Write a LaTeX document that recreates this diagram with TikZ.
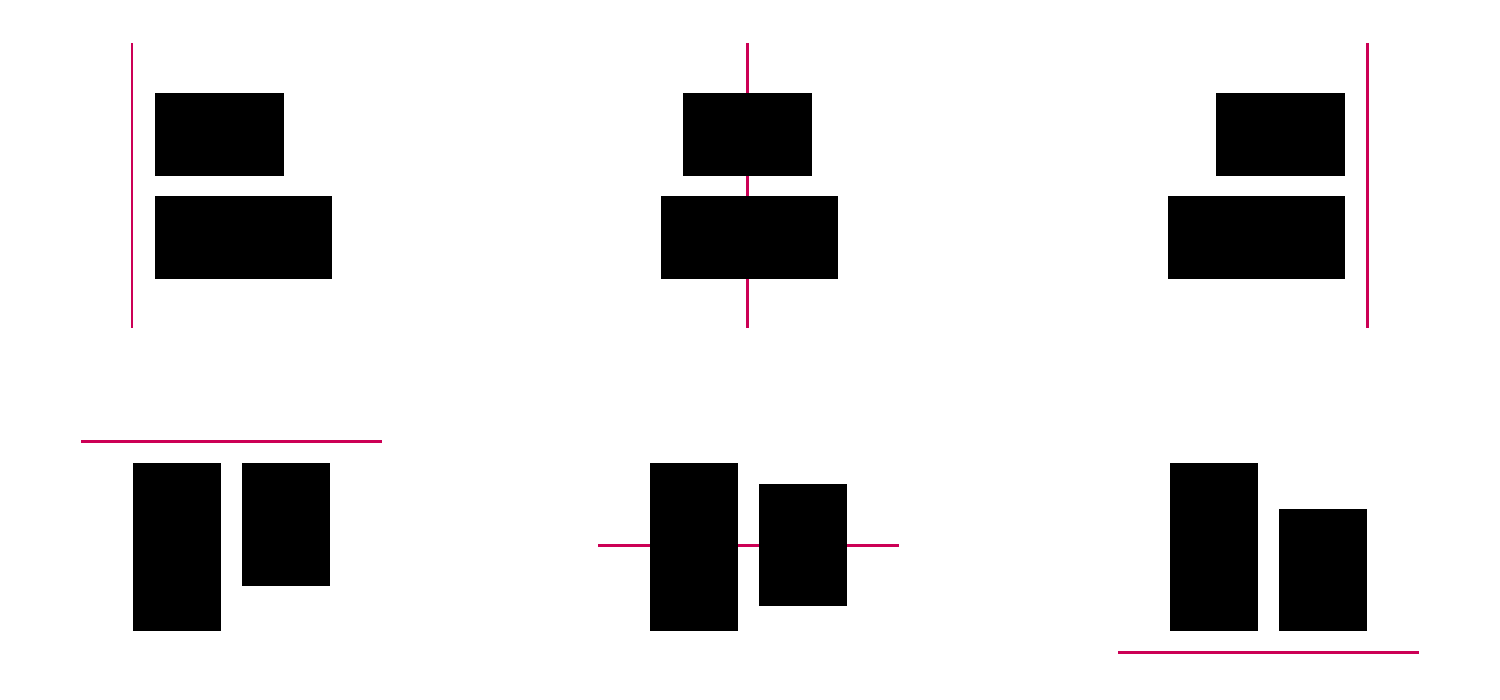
\documentclass[tikz,border=0pt]{standalone}
\definecolor{guide}{HTML}{CC0055}
\begin{document}
\begin{tikzpicture}[x=0.01cm,y=-0.01cm,
  guideline/.style={draw=guide,line width=0.85pt},
  block/.style={fill=black,draw=none}]
\useasboundingbox (0,0) rectangle (1500,700);
% top-left: left alignment
\coordinate (g1a) at (132,43); \coordinate (g1b) at (132,328);
\draw[guideline] (g1a) -- (g1b);
\fill[block] (155,93) rectangle (284,176);
\fill[block] (155,196) rectangle (332,279);
% top-middle: center alignment
\coordinate (g2a) at (747,43); \coordinate (g2b) at (747,328);
\draw[guideline] (g2a) -- (g2b);
\fill[block] (683,93) rectangle (812,176);
\fill[block] (661,196) rectangle (838,279);
% top-right: right alignment
\coordinate (g3a) at (1367,43); \coordinate (g3b) at (1367,328);
\draw[guideline] (g3a) -- (g3b);
\fill[block] (1216,93) rectangle (1345,176);
\fill[block] (1168,196) rectangle (1345,279);
% bottom-left: top alignment
\coordinate (g4a) at (81,441); \coordinate (g4b) at (382,441);
\draw[guideline] (g4a) -- (g4b);
\fill[block] (133,463) rectangle (221,631);
\fill[block] (242,463) rectangle (330,586);
% bottom-middle: middle alignment
\coordinate (g5a) at (598,545); \coordinate (g5b) at (899,545);
\draw[guideline] (g5a) -- (g5b);
\fill[block] (650,463) rectangle (738,631);
\fill[block] (759,484) rectangle (847,606);
% bottom-right: bottom alignment
\coordinate (g6a) at (1118,652); \coordinate (g6b) at (1419,652);
\draw[guideline] (g6a) -- (g6b);
\fill[block] (1170,463) rectangle (1258,631);
\fill[block] (1279,509) rectangle (1367,631);
\end{tikzpicture}
\end{document}
